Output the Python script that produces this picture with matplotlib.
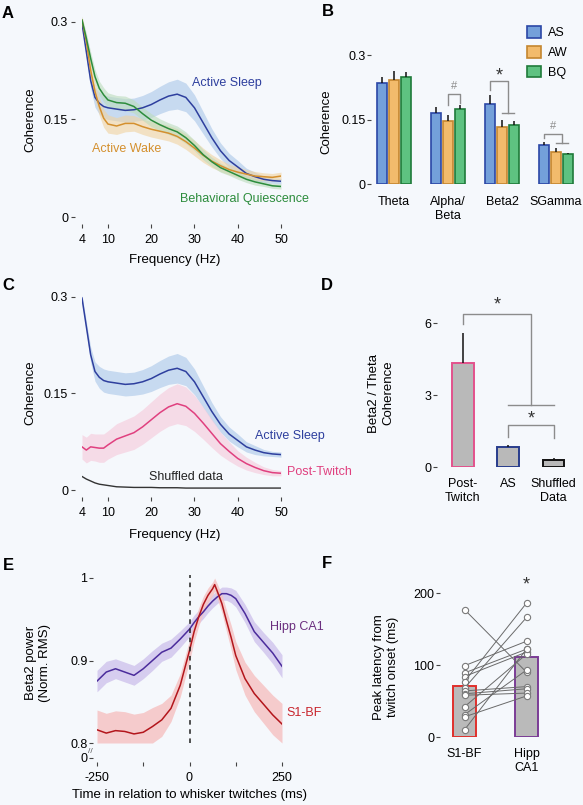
import matplotlib.pyplot as plt
import numpy as np

plt.rcParams['font.family'] = ['Liberation Sans', 'DejaVu Sans']
plt.rcParams['font.size'] = 9

BG = '#f5f8fc'
W, H = 583, 805

# ---- A / C : S1 - Hipp coherence spectra
freq = [4, 5, 6, 7, 8, 9, 10, 12, 14, 16, 18, 20, 22, 24, 26, 28, 30, 32, 34, 36, 38, 40, 42, 44, 46, 48, 50]
as_coh = [0.298, 0.254, 0.210, 0.184, 0.175, 0.170, 0.168, 0.166, 0.164, 0.165, 0.168, 0.173, 0.180, 0.186,
          0.189, 0.184, 0.168, 0.145, 0.122, 0.102, 0.087, 0.077, 0.067, 0.062, 0.058, 0.056, 0.055]
as_sem = [0.005, 0.008, 0.012, 0.015, 0.017, 0.018, 0.018, 0.018, 0.018, 0.018, 0.019, 0.020, 0.021, 0.022,
          0.023, 0.022, 0.020, 0.017, 0.014, 0.012, 0.011, 0.010, 0.008, 0.007, 0.005, 0.004, 0.004]
aw_coh = [0.303, 0.270, 0.226, 0.193, 0.170, 0.152, 0.143, 0.140, 0.144, 0.144, 0.139, 0.135, 0.132, 0.129,
          0.124, 0.116, 0.106, 0.095, 0.086, 0.079, 0.073, 0.069, 0.066, 0.063, 0.062, 0.061, 0.063]
aw_sem = [0.006, 0.009, 0.012, 0.013, 0.014, 0.014, 0.014, 0.013, 0.013, 0.012, 0.012, 0.012, 0.012, 0.012,
          0.012, 0.012, 0.012, 0.011, 0.010, 0.009, 0.008, 0.008, 0.007, 0.007, 0.006, 0.006, 0.006]
bq_coh = [0.303, 0.275, 0.244, 0.216, 0.198, 0.188, 0.180, 0.176, 0.175, 0.170, 0.159, 0.149, 0.142, 0.136,
          0.131, 0.122, 0.110, 0.096, 0.085, 0.076, 0.070, 0.064, 0.058, 0.054, 0.051, 0.048, 0.047]
bq_sem = [0.005, 0.008, 0.010, 0.011, 0.011, 0.011, 0.011, 0.011, 0.011, 0.010, 0.010, 0.010, 0.009, 0.009,
          0.009, 0.009, 0.008, 0.008, 0.007, 0.007, 0.006, 0.006, 0.005, 0.005, 0.004, 0.004, 0.004]
pt_coh = [0.067, 0.062, 0.067, 0.066, 0.065, 0.065, 0.070, 0.079, 0.084, 0.089, 0.098, 0.109, 0.120, 0.129,
          0.134, 0.130, 0.119, 0.104, 0.088, 0.072, 0.060, 0.049, 0.041, 0.035, 0.030, 0.027, 0.026]
pt_sem = [0.019, 0.020, 0.021, 0.021, 0.022, 0.022, 0.022, 0.024, 0.025, 0.026, 0.027, 0.028, 0.029, 0.030,
          0.031, 0.030, 0.028, 0.025, 0.022, 0.018, 0.015, 0.012, 0.010, 0.008, 0.006, 0.005, 0.004]
shuf_coh = [0.021, 0.017, 0.014, 0.011, 0.009, 0.008, 0.007, 0.005, 0.0045, 0.004, 0.004, 0.004, 0.0035, 0.0035,
            0.0035, 0.003, 0.003, 0.003, 0.003, 0.003, 0.003, 0.003, 0.003, 0.003, 0.003, 0.003, 0.003]
freq_ticks = [4, 10, 20, 30, 40, 50]

# ---- B : mean coherence per band
bands = ['Theta', 'Alpha/\nBeta', 'Beta2', 'SGamma']
band_as = [0.236, 0.166, 0.187, 0.0915]
band_as_err = [0.012, 0.013, 0.020, 0.008]
band_aw = [0.242, 0.147, 0.133, 0.076]
band_aw_err = [0.022, 0.015, 0.016, 0.008]
band_bq = [0.250, 0.174, 0.137, 0.070]
band_bq_err = [0.011, 0.010, 0.011, 0.002]

# ---- D : beta2 / theta ratio
ratio_groups = ['Post-\nTwitch', 'AS', 'Shuffled\nData']
ratio_vals = [4.33, 0.83, 0.30]
ratio_err = [1.27, 0.08, 0.08]

# ---- E : beta2 power around whisker twitches
t_hipp = [-250, -225, -200, -175, -150, -125, -100, -75, -50, -25, 0, 12.5, 25, 37.5, 50, 62.5, 75, 87.5,
          100, 112.5, 125, 150, 175, 200, 225, 250]
hipp_pow = [0.875, 0.886, 0.890, 0.886, 0.882, 0.890, 0.900, 0.910, 0.915, 0.926, 0.938, 0.946, 0.953, 0.959,
            0.966, 0.972, 0.977, 0.981, 0.981, 0.979, 0.975, 0.957, 0.935, 0.922, 0.909, 0.893]
hipp_sem = [0.013, 0.013, 0.012, 0.012, 0.012, 0.012, 0.012, 0.011, 0.011, 0.010, 0.009, 0.009, 0.008, 0.008,
            0.008, 0.008, 0.008, 0.008, 0.008, 0.009, 0.010, 0.011, 0.012, 0.012, 0.013, 0.014]
t_s1 = [-250, -225, -200, -175, -150, -125, -100, -75, -50, -25, 0, 12.5, 25, 37.5, 50, 62.5, 68, 75, 87.5,
        100, 112.5, 125, 150, 175, 200, 225, 250]
s1_pow = [0.816, 0.812, 0.815, 0.814, 0.811, 0.813, 0.820, 0.828, 0.842, 0.870, 0.912, 0.935, 0.953, 0.968,
          0.979, 0.987, 0.992, 0.984, 0.969, 0.948, 0.928, 0.906, 0.878, 0.860, 0.847, 0.834, 0.823]
s1_sem = [0.024, 0.024, 0.024, 0.024, 0.024, 0.024, 0.023, 0.020, 0.016, 0.014, 0.013, 0.012, 0.011, 0.010,
          0.009, 0.008, 0.008, 0.009, 0.011, 0.013, 0.015, 0.017, 0.020, 0.022, 0.023, 0.024, 0.025]
time_ticks = [-250, -125, 0, 125, 250]

# ---- F : peak latency per animal
lat_groups = ['S1-BF', 'Hipp\nCA1']
lat_s1 = [177, 99, 89, 84, 77, 68, 64, 60, 58, 42, 31, 28, 10]
lat_hipp = [90, 133, 122, 118, 186, 166, 70, 67, 61, 115, 93, 57, 122]
lat_mean = [71, 111]
lat_err = [11, 11]


def px_axes(fig, left, right, top, bottom):
    """Add axes placed with pixel edges of the 583x805 canvas."""
    return fig.add_axes([left / W, 1 - bottom / H, (right - left) / W, (bottom - top) / H])


def fig_text(fig, x, y, s, **kw):
    fig.text(x / W, 1 - y / H, s, **kw)


def clean(ax, offset_px=5):
    ax.set_facecolor('none')
    for side in ['top', 'right']:
        ax.spines[side].set_visible(False)
    for side in ['left', 'bottom']:
        ax.spines[side].set_position(('outward', offset_px * 0.72))
        ax.spines[side].set_color('none')
    ax.tick_params(length=3, width=0.8, color='#444444', labelsize=9, pad=2)


def spectrum(ax, y, sem, line_color, band_color, band_alpha=0.6):
    y = np.array(y)
    sem = np.array(sem)
    ax.fill_between(freq, y - sem, y + sem, color=band_color, alpha=band_alpha, lw=0)


fig = plt.figure(figsize=(W / 100, H / 100), dpi=100)
fig.patch.set_facecolor(BG)

# ------------------------------------------------------------ A
ax = px_axes(fig, 82, 281, 217 - 0.31 * 650, 217)
clean(ax, 7)
spectrum(ax, as_coh, as_sem, '#2e3f9e', '#a9c6e8')
spectrum(ax, aw_coh, aw_sem, '#d4902e', '#f0d3a0')
spectrum(ax, bq_coh, bq_sem, '#2c8c3c', '#bcdcbc')
ax.plot(freq, as_coh, color='#2e3f9e', lw=1.1)
ax.plot(freq, aw_coh, color='#d4902e', lw=1.1)
ax.plot(freq, bq_coh, color='#2c8c3c', lw=1.1)
ax.set_xlim(4, 50)
ax.set_ylim(0, 0.31)
ax.set_xticks(freq_ticks)
ax.set_yticks([0, 0.15, 0.3])
ax.set_yticklabels(['0', '0.15', '0.3'])
ax.tick_params(axis='x', pad=4)
ax.text(29.4, 0.206, 'Active Sleep', color='#2e3f9e', va='center')
ax.text(6.3, 0.105, 'Active Wake', color='#d4902e', va='center')
ax.text(26.6, 0.028, 'Behavioral Quiescence', color='#2c8c3c', va='center', clip_on=False)
fig_text(fig, 30, 120, 'Coherence', rotation=90, ha='center', va='center', fontsize=9.5)
fig_text(fig, 175, 260, 'Frequency (Hz)', ha='center', va='center', fontsize=9.5)

# ------------------------------------------------------------ B
ax = px_axes(fig, 372.4, 577.6, 55, 184.5)
clean(ax, 1.5)
xb = np.arange(len(bands))
step, width = 0.228, 0.185
series = [(band_as, band_as_err, '#74a0da', '#2b47a6', 'AS'),
          (band_aw, band_aw_err, '#f2bb6c', '#c4862f', 'AW'),
          (band_bq, band_bq_err, '#5ec281', '#1f7a3a', 'BQ')]
handles = []
for i, (vals, err, fc, ec, name) in enumerate(series):
    pos = xb + (i - 1) * step
    h = ax.bar(pos, vals, width, color=fc, edgecolor=ec, linewidth=1.2, label=name, zorder=2)
    ax.errorbar(pos, vals, yerr=[np.zeros(len(vals)), err], fmt='none', ecolor='#111111',
                elinewidth=1.1, capsize=0, zorder=3)
    handles.append(h)
ax.set_xlim(-0.4, 3.4)
ax.set_ylim(0, 0.3)
ax.set_xticks(xb)
ax.set_xticklabels(bands)
ax.set_yticks([0, 0.15, 0.3])
ax.set_yticklabels(['0', '0.15', '0.3'])
ax.tick_params(axis='x', length=0, pad=7)
ax.tick_params(axis='y', pad=1)

# significance brackets
gc = '#8c8c8c'
ax.plot([1, 1, 1 + step, 1 + step], [0.184, 0.2096, 0.2096, 0.189], color=gc, lw=1)
ax.text(1 + step / 2, 0.228, '#', ha='center', va='center', color=gc, fontsize=8)
ax.plot([2 - step, 2 - step, 2 + step / 2, 2 + step / 2], [0.219, 0.24, 0.24, 0.166], color=gc, lw=1)
ax.plot([2, 2 + step], [0.166, 0.166], color=gc, lw=1)
ax.text(2 - step / 4, 0.252, '*', ha='center', va='center', color='#333333', fontsize=13)
ax.plot([3 - step, 3 - step, 3 + step / 2, 3 + step / 2], [0.108, 0.117, 0.117, 0.096], color=gc, lw=1)
ax.plot([3, 3 + step], [0.096, 0.096], color=gc, lw=1)
ax.text(3 - step / 4, 0.136, '#', ha='center', va='center', color=gc, fontsize=8)
ax.legend(handles=handles, loc='upper left', bbox_to_anchor=(527 / W, 1 - 26 / H),
          bbox_transform=fig.transFigure, frameon=False, borderpad=0, borderaxespad=0,
          handlelength=1.15, handleheight=1.05, labelspacing=0.55, handletextpad=0.5, fontsize=9)
fig_text(fig, 326, 122, 'Coherence', rotation=90, ha='center', va='center', fontsize=9.5)

# ------------------------------------------------------------ C
ax = px_axes(fig, 82, 281, 490 - 0.31 * 644, 490)
clean(ax, 7)
spectrum(ax, as_coh, as_sem, '#2e3f9e', '#a9c6e8')
spectrum(ax, pt_coh, pt_sem, '#e0407f', '#f6c8da')
ax.plot(freq, as_coh, color='#2e3f9e', lw=1.1)
ax.plot(freq, pt_coh, color='#e0407f', lw=1.1)
ax.plot(freq, shuf_coh, color='#333333', lw=1.0)
ax.set_xlim(4, 50)
ax.set_ylim(0, 0.31)
ax.set_xticks(freq_ticks)
ax.set_yticks([0, 0.15, 0.3])
ax.set_yticklabels(['0', '0.15', '0.3'])
ax.tick_params(axis='x', pad=4)
ax.text(44, 0.084, 'Active Sleep', color='#2e3f9e', va='center', clip_on=False)
ax.text(51.4, 0.028, 'Post-Twitch', color='#e0407f', va='center', clip_on=False)
ax.text(19.5, 0.02, 'Shuffled data', color='#222222', va='center')
fig_text(fig, 30, 393, 'Coherence', rotation=90, ha='center', va='center', fontsize=9.5)
fig_text(fig, 175, 535, 'Frequency (Hz)', ha='center', va='center', fontsize=9.5)

# ------------------------------------------------------------ D
ax = px_axes(fig, 463 - 0.5 * 45.3, 463 + 2.55 * 45.3, 467 - 7 * 24, 467)
clean(ax, 3)
xd = np.arange(len(ratio_groups))
ax.bar(xd, ratio_vals, 0.48, color='#b9b9b9', edgecolor=['#e3528c', '#283c8c', '#111111'],
       linewidth=1.4, zorder=2)
ax.errorbar(xd, ratio_vals, yerr=[np.zeros(3), ratio_err], fmt='none', ecolor='#111111',
            elinewidth=1.1, capsize=0, zorder=3)
ax.set_xlim(-0.5, 2.55)
ax.set_ylim(0, 7)
ax.set_xticks(xd)
ax.set_xticklabels(ratio_groups)
ax.set_yticks([0, 3, 6])
ax.tick_params(axis='x', length=0, pad=6)
ax.tick_params(axis='y', pad=1)
ax.plot([0, 0, 1.5, 1.5], [5.96, 6.375, 6.375, 2.58], color=gc, lw=1)
ax.plot([1, 2], [2.58, 2.58], color=gc, lw=1)
ax.text(0.76, 6.75, '*', ha='center', va='center', color='#333333', fontsize=13)
ax.plot([1, 1, 2, 2], [1.25, 1.75, 1.75, 1.21], color=gc, lw=1)
ax.text(1.5, 2.0, '*', ha='center', va='center', color='#333333', fontsize=13)
fig_text(fig, 381, 393, 'Beta2 / Theta\nCoherence', rotation=90, ha='center', va='center', fontsize=9.5)

# ------------------------------------------------------------ E
y_lo, y_hi = 0.782, 1.005
ax = px_axes(fig, 97, 282, 578 - 0.005 * 825, 743 + 0.018 * 825)
clean(ax, 4)
hp, hs = np.array(hipp_pow), np.array(hipp_sem)
sp, ss = np.array(s1_pow), np.array(s1_sem)
ax.fill_between(t_hipp, hp - hs, hp + hs, color='#d6cdef', lw=0)
ax.fill_between(t_s1, np.clip(sp - ss, 0.8, None), sp + ss, color='#f6c4c4', alpha=0.85, lw=0)
ax.plot(t_hipp, hipp_pow, color='#4b2c9c', lw=1.1)
ax.plot(t_s1, s1_pow, color='#b3161c', lw=1.1)
ax.axvline(0, ymin=(0.8 - y_lo) / (y_hi - y_lo), ymax=0.995, color='#222222', lw=1.1, ls=(0, (3, 3)))
ax.set_xlim(-250, 250)
ax.set_ylim(y_lo, y_hi)
ax.set_xticks(time_ticks)
ax.set_xticklabels(['-250', '', '0', '', '250'])
ax.set_yticks([y_lo, 0.8, 0.9, 1.0])
ax.set_yticklabels(['0', '0.8', '0.9', '1'])
ax.tick_params(axis='x', pad=4)
ax.tick_params(axis='y', pad=1)
ax.text(217, 0.9406, 'Hipp CA1', color='#6b2f7f', va='center', clip_on=False)
ax.text(263, 0.8364, 'S1-BF', color='#c8242c', va='center', clip_on=False)
fig_text(fig, 90, 751, '//', ha='center', va='center', fontsize=6, color='#555555')
fig_text(fig, 38, 663, 'Beta2 power\n(Norm. RMS)', rotation=90, ha='center', va='center', fontsize=9.5)
fig_text(fig, 190, 795, 'Time in relation to whisker twitches (ms)', ha='center', va='center', fontsize=9.5)

# ------------------------------------------------------------ F
ax = px_axes(fig, 464.5 - 0.35 * 62, 464.5 + 1.5 * 62, 593, 737)
clean(ax, 3)
xf = np.arange(len(lat_groups))
ax.bar(xf, lat_mean, 0.37, color='#bababa', edgecolor=['#e0302c', '#7b3c96'], linewidth=1.4, zorder=1)
ax.errorbar(xf, lat_mean, yerr=[np.zeros(2), lat_err], fmt='none', ecolor='#111111',
            elinewidth=1.1, capsize=0, zorder=2)
for s1, hp_val in zip(lat_s1, lat_hipp):
    ax.plot(xf, [s1, hp_val], color='#6a6a6a', lw=0.7, marker='o', ms=4.5, mfc='white',
            mec='#7a7a7a', mew=0.8, zorder=3)
ax.set_xlim(-0.35, 1.5)
ax.set_ylim(0, 200)
ax.set_xticks(xf)
ax.set_xticklabels(lat_groups)
ax.set_yticks([0, 100, 200])
ax.tick_params(axis='x', length=0, pad=6)
ax.tick_params(axis='y', pad=1)
ax.text(1, 211, '*', ha='center', va='center', color='#333333', fontsize=13, clip_on=False)
fig_text(fig, 386, 667, 'Peak latency from\ntwitch onset (ms)', rotation=90, ha='center', va='center',
         fontsize=9.5)

# panel letters
for letter, (x, y) in zip('ABCDEF', [(8, 13), (328, 12), (8, 285), (327, 285), (8, 565), (327, 563)]):
    fig_text(fig, x, y, letter, fontsize=12, fontweight='bold', ha='center', va='center')

fig.savefig('out.png', dpi=100, facecolor=BG)
